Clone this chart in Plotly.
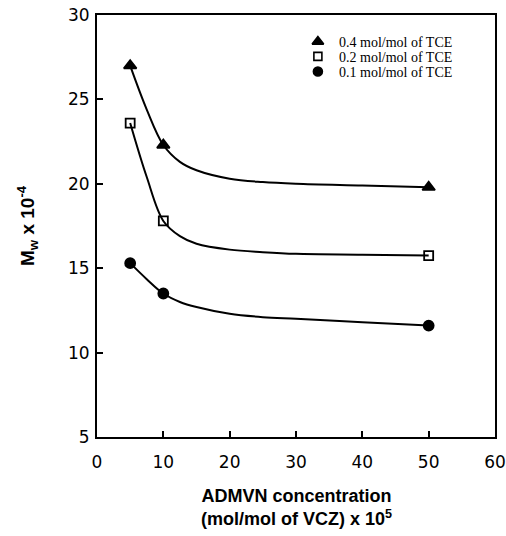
import plotly.graph_objects as go

# ---- data ----
series_names = ["0.4 mol/mol of TCE", "0.2 mol/mol of TCE", "0.1 mol/mol of TCE"]
admvn = [5, 10, 50]
mw_04 = [27.0, 22.3, 19.8]
mw_02 = [23.6, 17.8, 15.75]
mw_01 = [15.3, 13.5, 11.6]

# hand-drawn fit curves
curve_x = [5, 7.5, 10, 12.5, 15, 20, 25, 30, 40, 50]
curve_04 = [27.0, 24.4, 22.3, 21.3, 20.8, 20.3, 20.1, 20.0, 19.9, 19.8]
curve_02 = [23.6, 20.4, 17.8, 16.9, 16.45, 16.1, 15.95, 15.85, 15.8, 15.75]
curve_01 = [15.3, 14.35, 13.5, 13.0, 12.7, 12.3, 12.1, 12.0, 11.8, 11.6]

x_ticks = [0, 10, 20, 30, 40, 50, 60]
y_ticks = [5, 10, 15, 20, 25, 30]

symbols = ["triangle-up", "square-open", "circle"]
sizes = [11, 9, 10]
values = [mw_04, mw_02, mw_01]
curves = [curve_04, curve_02, curve_01]

fig = go.Figure()
for cy in curves:
    fig.add_trace(go.Scatter(x=curve_x, y=cy, mode="lines",
                             line=dict(color="black", width=2, shape="spline", smoothing=1.0),
                             showlegend=False, hoverinfo="skip"))
for name, vals, sym, sz in zip(series_names, values, symbols, sizes):
    fig.add_trace(go.Scatter(x=admvn, y=vals, mode="markers", name=name,
                             marker=dict(symbol=sym, size=sz, color="black",
                                         line=dict(color="black", width=1.8)),
                             showlegend=False))

# manual legend (markers on a hidden overlay axis + text annotations)
leg_x = [0.555, 0.555, 0.555]
leg_y = [0.937, 0.902, 0.866]
for i, (name, sym, sz) in enumerate(zip(series_names, symbols, sizes)):
    fig.add_trace(go.Scatter(x=[leg_x[i]], y=[leg_y[i]], mode="markers",
                             xaxis="x2", yaxis="y2",
                             marker=dict(symbol=sym, size=sz - 1, color="black",
                                         line=dict(color="black", width=1.6)),
                             showlegend=False, hoverinfo="skip"))
    fig.add_annotation(x=0.603, y=leg_y[i] - 0.003, xref="paper", yref="paper",
                       text=name, showarrow=False, xanchor="left", yanchor="middle",
                       font=dict(family="Liberation Serif", size=14, color="black"))

axis_common = dict(showgrid=False, zeroline=False, showline=True, linecolor="black",
                   linewidth=2, mirror=True, ticks="inside", ticklen=6, tickwidth=1.5,
                   tickcolor="black", automargin=False,
                   tickfont=dict(family="DejaVu Sans", size=17, color="black"))

fig.update_layout(
    width=506, height=536,
    margin=dict(l=97, r=11, t=15, b=99, autoexpand=False),
    paper_bgcolor="white", plot_bgcolor="white",
    xaxis=dict(range=[0, 60], tickvals=x_ticks, ticklabelstandoff=9, **axis_common),
    yaxis=dict(range=[5, 30], tickvals=y_ticks, ticklabelstandoff=2, **axis_common),
    xaxis2=dict(range=[0, 1], overlaying="x", visible=False),
    yaxis2=dict(range=[0, 1], overlaying="y", visible=False, anchor="x2"),
    showlegend=False,
)

fig.add_annotation(x=0, y=0.5, xref="paper", yref="paper", xshift=-70,
                   text="<b>M<sub>w</sub> x 10<sup>-4</sup></b>", textangle=-90,
                   showarrow=False, xanchor="center", yanchor="middle",
                   font=dict(family="Liberation Sans", size=19, color="black"))
fig.add_annotation(x=0.5, y=0, xref="paper", yref="paper", yshift=-47,
                   text="<b>ADMVN concentration<br>(mol/mol of VCZ) x 10<sup>5</sup></b>",
                   showarrow=False, xanchor="center", yanchor="top",
                   font=dict(family="Liberation Sans", size=18, color="black"))

fig.write_html("out.html", config={"displayModeBar": False},
               post_script="document.body.style.margin='0';document.body.style.overflow='hidden';")
